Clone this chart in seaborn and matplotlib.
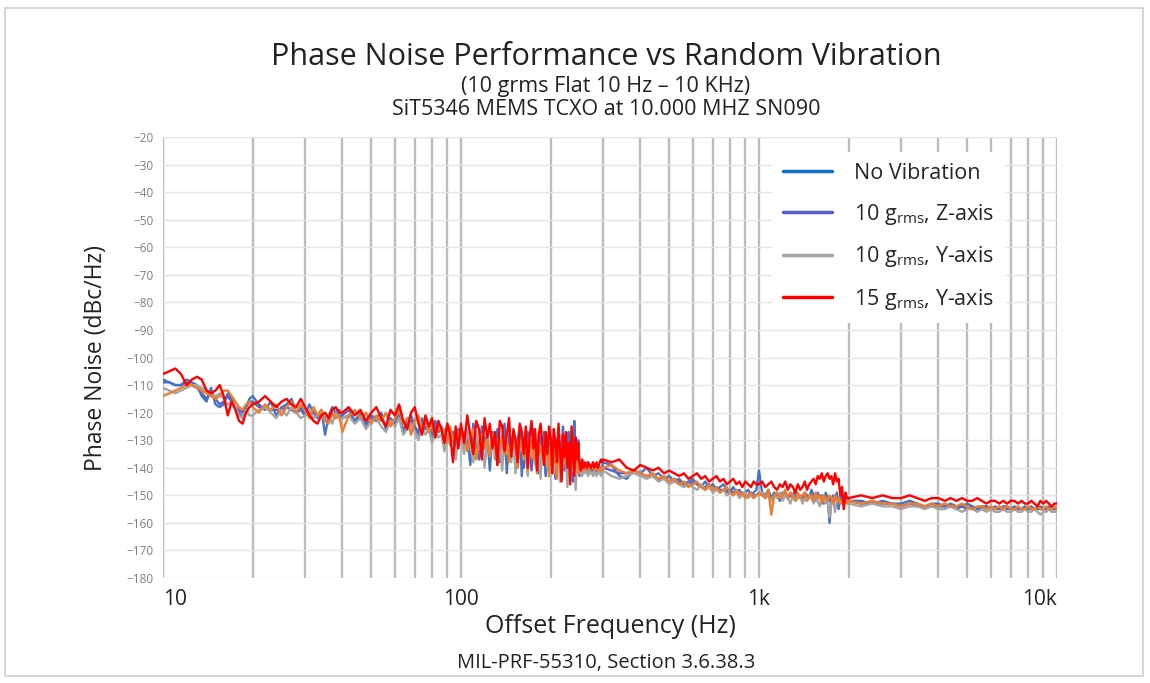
import numpy as np
import pandas as pd
import seaborn as sns
import matplotlib.pyplot as plt
from matplotlib.patches import Rectangle
from matplotlib.ticker import FixedLocator, NullFormatter

# offset frequencies (Hz) shared by all traces
freq = ([10, 10.5, 11, 11.5, 12, 12.5, 13, 13.5, 14, 14.5, 15, 15.5, 16, 16.5, 17, 17.5, 18, 18.5, 19, 19.5]
        + [20, 21, 22, 23, 24, 25, 26, 27, 28, 29, 30, 31, 32, 33, 34, 35, 36, 37, 38, 39]
        + [40, 42, 44, 46, 48, 50, 52, 54, 56, 58, 60, 62, 64, 66, 68, 70, 72, 74, 76, 78,
           80, 82, 84, 86, 88, 90, 92, 94, 96, 98]
        + [100, 102.5, 105, 107.5, 110, 112.5, 115, 117.5, 120, 122.5,
           125, 127.5, 130, 132.5, 135, 137.5, 140, 142.5, 145, 147.5,
           150, 152.5, 155, 157.5, 160, 162.5, 165, 167.5, 170, 172.5,
           175, 177.5, 180, 182.5, 185, 187.5, 190, 192.5, 195, 197.5,
           200, 202.5, 205, 207.5, 210, 212.5, 215, 217.5, 220, 222.5,
           225, 227.5, 230, 232.5, 235, 237.5, 240, 242.5, 245, 247.5,
           250, 252.5, 255, 257.5, 260, 262.5, 265, 267.5, 270, 272.5,
           275, 277.5, 280, 282.5, 285, 287.5, 290, 292.5, 295, 297.5]
        + [300, 320, 340, 360, 380, 400, 420, 440, 460, 480, 500, 520, 540, 560, 580, 600, 620, 640,
           660, 680, 700, 720, 740, 760, 780, 800, 820, 840, 860, 880, 900, 920, 940, 960, 980]
        + [1000, 1025, 1050, 1075, 1100, 1125, 1150, 1175, 1200, 1225,
           1250, 1275, 1300, 1325, 1350, 1375, 1400, 1425, 1450, 1475,
           1500, 1525, 1550, 1575, 1600, 1625, 1650, 1675, 1700, 1725,
           1750, 1775, 1800, 1825, 1850, 1875, 1900, 1925, 1950, 1975]
        + [2000, 2200, 2400, 2600, 2800, 3000, 3200, 3400, 3600, 3800,
           4000, 4200, 4400, 4600, 4800, 5000, 5200, 5400, 5600, 5800,
           6000, 6200, 6400, 6600, 6800, 7000, 7200, 7400, 7600, 7800,
           8000, 8200, 8400, 8600, 8800, 9000, 9200, 9400, 9600, 9800, 10000])

no_vib = ([-108, -109, -110, -110, -108, -109, -110, -114, -116, -111, -117, -118, -117, -113, -115, -118, -120, -122, -118, -115]
          + [-114, -117, -119, -116, -121, -118, -117, -115, -120, -118, -121, -117, -120, -122, -119, -128, -121, -118, -120, -119]
          + [-121, -119, -123, -120, -125, -121, -122, -120, -126, -122, -124, -120, -127, -123, -121, -125, -128, -122, -126, -124,
             -129, -123, -127, -125, -132, -124, -130, -127, -135, -126]
          + [-126, -133, -128, -139, -124, -130, -136, -125, -131, -128,
             -141, -127, -132, -126, -135, -129, -124, -142, -128, -133,
             -127, -136, -130, -125, -143, -129, -134, -127, -131, -138,
             -126, -132, -140, -128, -130, -135, -127, -142, -129, -133,
             -131, -137, -126, -144, -130, -128, -139, -133, -125, -141,
             -130, -136, -127, -145, -132, -138, -123, -134, -140, -130,
             -143, -140, -138, -141, -139, -140, -138, -139, -141, -140,
             -139, -141, -140, -139, -141, -140, -139, -140, -141, -140]
          + [-138, -139, -143, -144, -141, -142, -140, -143, -142, -144, -143, -145, -144, -146, -145, -144, -146, -147,
             -145, -147, -146, -148, -147, -146, -148, -149, -147, -149, -148, -150, -149, -148, -150, -149, -148]
          + [-141, -149, -150, -148, -151, -149, -150, -152, -149, -150,
             -151, -149, -150, -148, -151, -150, -152, -149, -150, -151,
             -148, -150, -152, -149, -151, -150, -153, -149, -151, -160,
             -152, -150, -151, -149, -155, -150, -152, -151, -152, -151]
          + [-152, -152, -153, -152, -153, -153, -152, -153, -154, -153,
             -153, -154, -153, -154, -154, -153, -154, -155, -154, -154,
             -155, -154, -155, -154, -154, -155, -154, -155, -155, -154,
             -155, -154, -155, -155, -154, -155, -155, -154, -155, -155, -155])

z_10g = ([-109, -109, -110, -110, -109, -110, -111, -113, -115, -112, -115, -117, -116, -114, -116, -118, -119, -120, -118, -116]
         + [-116, -118, -118, -119, -119, -119, -118, -119, -120, -119, -121, -120, -120, -121, -121, -122, -121, -121, -120, -121]
         + [-122, -121, -123, -122, -124, -122, -123, -122, -125, -123, -124, -122, -126, -124, -123, -125, -127, -124, -126, -125,
            -128, -125, -127, -126, -130, -126, -129, -127, -132, -127]
         + [-128, -133, -127, -135, -130, -128, -137, -129, -133, -131,
            -136, -129, -134, -131, -138, -130, -133, -137, -130, -135,
            -131, -139, -132, -135, -130, -140, -133, -136, -132, -141,
            -133, -137, -131, -142, -134, -136, -133, -143, -135, -137,
            -134, -140, -133, -143, -135, -138, -134, -144, -136, -139,
            -135, -143, -136, -140, -134, -145, -137, -141, -136, -142,
            -140, -141, -140, -142, -141, -140, -141, -142, -140, -141,
            -141, -140, -141, -142, -141, -140, -141, -142, -141, -141]
         + [-140, -141, -142, -142, -141, -142, -143, -143, -144, -144, -145, -144, -145, -146, -146, -145, -146, -147,
            -147, -146, -148, -147, -148, -148, -149, -148, -149, -149, -150, -149, -150, -150, -149, -150, -150]
         + [-149, -150, -150, -149, -151, -150, -150, -151, -150, -150,
            -151, -150, -151, -150, -151, -150, -151, -150, -151, -150,
            -150, -151, -150, -151, -150, -151, -150, -152, -151, -152,
            -151, -152, -151, -152, -151, -152, -152, -151, -152, -152]
         + [-152, -153, -153, -153, -153, -154, -153, -154, -154, -154,
            -154, -154, -154, -155, -154, -155, -154, -155, -155, -154,
            -155, -155, -155, -155, -155, -155, -155, -155, -155, -155,
            -155, -155, -155, -155, -155, -155, -155, -155, -155, -155, -155])

y_10g = ([-111, -112, -113, -112, -111, -110, -110, -111, -112, -113, -114, -113, -115, -117, -116, -118, -121, -122, -119, -121]
         + [-121, -119, -118, -120, -122, -119, -121, -118, -120, -122, -121, -119, -122, -121, -120, -123, -121, -124, -120, -122]
         + [-122, -121, -124, -122, -126, -123, -122, -125, -127, -123, -125, -122, -128, -126, -124, -127, -130, -125, -128, -126,
            -131, -127, -129, -128, -134, -127, -132, -129, -137, -128]
         + [-128, -135, -126, -132, -138, -127, -133, -129, -140, -130,
            -134, -128, -137, -131, -129, -141, -130, -135, -132, -138,
            -129, -142, -131, -134, -130, -137, -133, -143, -131, -136,
            -130, -139, -134, -132, -144, -131, -137, -133, -140, -132,
            -135, -131, -142, -134, -138, -133, -145, -132, -139, -136,
            -133, -147, -135, -139, -134, -141, -136, -148, -137, -140,
            -142, -141, -143, -140, -142, -141, -142, -143, -141, -142,
            -142, -143, -141, -142, -143, -142, -141, -142, -143, -142]
         + [-141, -143, -144, -143, -142, -143, -144, -143, -145, -144, -146, -145, -146, -147, -146, -147, -148, -146,
            -148, -147, -149, -148, -149, -148, -150, -149, -150, -149, -151, -150, -149, -151, -150, -151, -150]
         + [-150, -149, -151, -150, -152, -150, -151, -149, -152, -150,
            -151, -153, -150, -152, -151, -150, -153, -151, -152, -150,
            -151, -153, -150, -152, -154, -151, -150, -153, -151, -158,
            -153, -151, -156, -152, -151, -153, -152, -151, -153, -152]
         + [-153, -154, -153, -154, -154, -155, -154, -154, -155, -154,
            -155, -155, -154, -155, -156, -155, -155, -156, -155, -156,
            -155, -156, -156, -155, -156, -156, -155, -156, -156, -155,
            -156, -156, -155, -156, -157, -156, -156, -155, -156, -156, -156])

# orange trace drawn in the original but not listed in its legend
extra = ([-114, -113, -112, -111, -110, -110, -111, -112, -113, -114, -115, -114, -112, -112, -114, -116, -118, -119, -117, -116]
         + [-118, -120, -117, -119, -117, -121, -118, -116, -120, -117, -119, -122, -118, -121, -119, -123, -124, -120, -122, -121]
         + [-127, -121, -119, -122, -120, -124, -121, -123, -120, -125, -122, -119, -124, -122, -128, -123, -121, -126, -123, -127,
            -124, -129, -125, -127, -126, -131, -125, -130, -128, -127]
         + [-129, -127, -134, -130, -126, -137, -131, -128, -133, -129,
            -136, -130, -128, -139, -132, -129, -135, -131, -138, -130,
            -133, -129, -140, -132, -130, -136, -131, -141, -133, -130,
            -137, -132, -142, -131, -135, -133, -139, -134, -132, -143,
            -134, -131, -138, -133, -144, -132, -136, -134, -140, -133,
            -135, -139, -132, -144, -136, -134, -141, -137, -135, -142,
            -139, -140, -138, -141, -139, -140, -139, -141, -140, -139,
            -140, -139, -141, -140, -139, -141, -140, -141, -140, -141]
         + [-140, -139, -141, -142, -141, -142, -143, -142, -144, -143, -145, -144, -146, -145, -147, -146, -145, -147,
            -148, -146, -148, -147, -149, -148, -147, -149, -150, -148, -150, -149, -151, -150, -149, -151, -150]
         + [-149, -150, -151, -148, -157, -150, -149, -151, -150, -148,
            -151, -149, -150, -152, -149, -151, -150, -149, -152, -150,
            -150, -152, -149, -151, -150, -153, -150, -151, -152, -150,
            -151, -153, -150, -152, -151, -153, -152, -151, -152, -153]
         + [-152, -153, -152, -153, -153, -154, -153, -153, -154, -153,
            -154, -153, -154, -154, -153, -154, -155, -154, -154, -155,
            -154, -155, -154, -155, -154, -155, -155, -154, -155, -155,
            -154, -155, -155, -154, -155, -155, -154, -155, -155, -154, -155])

y_15g = ([-106, -105, -104, -106, -110, -108, -107, -108, -112, -113, -112, -110, -114, -121, -116, -119, -123, -124, -120, -118]
         + [-117, -116, -114, -116, -118, -116, -115, -117, -118, -115, -118, -121, -123, -124, -121, -120, -122, -119, -118, -120]
         + [-120, -118, -121, -119, -123, -120, -118, -122, -125, -119, -121, -117, -123, -126, -120, -118, -124, -128, -121, -125,
            -122, -129, -123, -126, -131, -124, -128, -138, -125, -133]
         + [-124, -131, -121, -128, -135, -123, -126, -137, -122, -129,
            -124, -133, -127, -139, -123, -125, -134, -128, -122, -136,
            -126, -130, -138, -124, -127, -135, -125, -140, -129, -123,
            -133, -126, -141, -128, -124, -131, -139, -127, -135, -125,
            -129, -142, -126, -131, -138, -124, -133, -145, -128, -136,
            -127, -140, -131, -146, -125, -134, -143, -129, -137, -131,
            -139, -141, -137, -140, -138, -139, -140, -138, -139, -140,
            -139, -138, -140, -139, -138, -140, -139, -138, -137, -138]
         + [-137, -138, -137, -140, -141, -139, -140, -141, -140, -142, -141, -142, -143, -142, -144, -143, -142, -144,
            -143, -145, -144, -143, -145, -144, -146, -145, -144, -146, -145, -147, -145, -146, -147, -145, -146]
         + [-146, -145, -147, -146, -145, -147, -148, -146, -147, -145,
            -148, -146, -147, -149, -146, -148, -147, -145, -148, -146,
            -145, -144, -146, -143, -144, -142, -145, -143, -142, -144,
            -143, -146, -142, -145, -144, -150, -147, -155, -149, -151]
         + [-151, -150, -151, -150, -151, -151, -150, -151, -152, -151,
            -151, -152, -151, -152, -151, -152, -152, -151, -152, -153,
            -152, -152, -153, -152, -153, -152, -152, -153, -152, -153,
            -153, -152, -153, -154, -152, -153, -152, -153, -154, -153, -153])

series = [
    (z_10g, '#5a5ec8'),
    (no_vib, '#4472c4'),
    (y_10g, '#a5a5a5'),
    (extra, '#ed7d31'),
    (y_15g, '#ff0000'),
]
legend_labels = ['No Vibration', r'10 g$_\mathregular{rms}$, Z-axis',
                 r'10 g$_\mathregular{rms}$, Y-axis', r'15 g$_\mathregular{rms}$, Y-axis']
legend_colors = ['#0f6fc6', '#5a5ec8', '#a5a5a5', '#ff0000']

sns.set_theme(style='white')
plt.rcParams['font.family'] = ['Open Sans', 'DejaVu Sans']
plt.rcParams['mathtext.fontset'] = 'custom'
plt.rcParams['mathtext.rm'] = 'Open Sans'

fig = plt.figure(figsize=(11.5, 6.83), dpi=100)
ax = fig.add_axes([0.1417, 0.1537, 0.7774, 0.6457])

for vals, col in series:
    df = pd.DataFrame({'freq': freq, 'pn': vals})
    sns.lineplot(data=df, x='freq', y='pn', color=col, linewidth=1.7,
                 estimator=None, ax=ax, legend=False)

ax.set_xscale('log')
ax.set_xlim(10, 10000)
ax.set_ylim(-180, -20)
ax.set_yticks(range(-180, -19, 10))
ax.set_xticks([10, 100, 1000, 10000])
ax.set_xticklabels(['10', '100', '1k', '10k'])
xlabels = ax.get_xticklabels()
xlabels[0].set_ha('left')
xlabels[-1].set_ha('right')
minors = [m * d for d in (10, 100, 1000) for m in range(2, 10)]
ax.xaxis.set_minor_locator(FixedLocator(minors))
ax.xaxis.set_minor_formatter(NullFormatter())
ax.grid(axis='y', color='#e4e4e4', linewidth=1.0)
ax.grid(axis='x', which='both', color='#bcbcbc', linewidth=1.7)
for s in ax.spines.values():
    s.set_visible(False)
ax.tick_params(axis='x', labelsize=15, colors='#222222', length=0, pad=8)
ax.tick_params(axis='y', labelsize=8.5, colors='#7f7f7f', length=0, pad=7)
ax.set_xlabel('Offset Frequency (Hz)', fontsize=18, color='#222222', labelpad=3)
ax.set_ylabel('Phase Noise (dBc/Hz)', fontsize=16.5, color='#222222', labelpad=13)

handles = [plt.Line2D([], [], color=c, linewidth=2.5) for c in legend_colors]
ax.legend(handles, legend_labels, loc='upper left', bbox_to_anchor=(0.669, 0.99),
          fontsize=15.5, frameon=True, facecolor='white', edgecolor='none',
          framealpha=1, handlelength=2.3, handletextpad=1.0, labelspacing=0.82,
          borderpad=0.5)

fig.text(0.527, 0.917, 'Phase Noise Performance vs Random Vibration', ha='center',
         va='center', fontsize=22, color='#222222')
fig.text(0.527, 0.873, '(10 grms Flat 10 Hz \u2013 10 KHz)', ha='center', va='center',
         fontsize=15.5, color='#222222')
fig.text(0.527, 0.839, 'SiT5346 MEMS TCXO at 10.000 MHZ SN090', ha='center', va='center',
         fontsize=15.5, color='#222222')
fig.text(0.527, 0.029, 'MIL-PRF-55310, Section 3.6.38.3', ha='center', va='center',
         fontsize=14.5, color='#222222')

fig.patches.append(Rectangle((0.004, 0.01), 0.99, 0.978, transform=fig.transFigure,
                             fill=False, edgecolor='#d0d0d0', linewidth=1.2))

fig.savefig('out.png', dpi=100)
